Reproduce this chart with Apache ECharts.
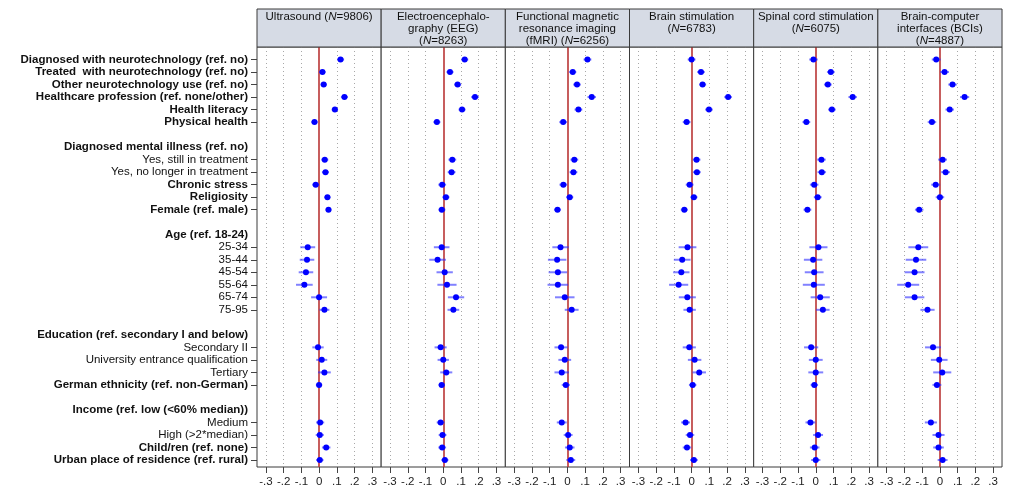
<!DOCTYPE html>
<html><head><meta charset="utf-8">
<script src="https://cdn.jsdelivr.net/npm/echarts@6/dist/echarts.min.js"></script>
<style>html,body{margin:0;padding:0;background:#fff}#c{width:1023px;height:498px}</style>
</head><body><div id="c"></div>
<script>
// ---------- data ----------
const rowLabels = [
  'Diagnosed with neurotechnology (ref. no)',
  'Treated  with neurotechnology (ref. no)',
  'Other neurotechnology use (ref. no)',
  'Healthcare profession (ref. none/other)',
  'Health literacy',
  'Physical health',
  '',
  'Diagnosed mental illness (ref. no)',
  'Yes, still in treatment',
  'Yes, no longer in treatment',
  'Chronic stress',
  'Religiosity',
  'Female (ref. male)',
  '',
  'Age (ref. 18-24)',
  '25-34', '35-44', '45-54', '55-64', '65-74', '75-95',
  '',
  'Education (ref. secondary I and below)',
  'Secondary II',
  'University entrance qualification',
  'Tertiary',
  'German ethnicity (ref. non-German)',
  '',
  'Income (ref. low (<60% median))',
  'Medium',
  'High (>2*median)',
  'Child/ren (ref. none)',
  'Urban place of residence (ref. rural)'
];
const rowKind = ['b','b','b','b','b','b','', 'b','n','n','b','b','b','', 'b','n','n','n','n','n','n','', 'b','n','n','n','b','', 'b','n','n','b','b'];
const dataRows = [0,1,2,3,4,5,8,9,10,11,12,15,16,17,18,19,20,23,24,25,26,29,30,31,32];
const xTicks = [-0.3,-0.2,-0.1,0,0.1,0.2,0.3];
const panelTitles = [
  'Ultrasound ({i|N}=9806)',
  'Electroencephalo-\ngraphy (EEG)\n({i|N}=8263)',
  'Functional magnetic\nresonance imaging\n(fMRI) ({i|N}=6256)',
  'Brain stimulation\n({i|N}=6783)',
  'Spinal cord stimulation\n({i|N}=6075)',
  'Brain-computer\ninterfaces (BCIs)\n({i|N}=4887)'
];
const estUltrasound = [0.121,0.019,0.026,0.143,0.089,-0.026, 0.032,0.036,-0.019,0.047,0.053, -0.064,-0.068,-0.074,-0.083,0.000,0.030, -0.006,0.015,0.030,0.000, 0.006,0.004,0.040,0.004];
const ciUltrasound  = [0.020,0.018,0.018,0.020,0.018,0.018, 0.020,0.020,0.020,0.017,0.017, 0.042,0.041,0.041,0.047,0.045,0.028, 0.032,0.031,0.036,0.018, 0.023,0.023,0.024,0.021];
const estEEG = [0.121,0.038,0.081,0.179,0.106,-0.036, 0.051,0.047,-0.006,0.015,-0.008, -0.009,-0.032,0.008,0.021,0.072,0.057, -0.015,0.000,0.017,-0.009, -0.015,-0.004,-0.006,0.009];
const ciEEG  = [0.020,0.020,0.020,0.022,0.020,0.020, 0.022,0.022,0.022,0.020,0.020, 0.044,0.047,0.046,0.054,0.046,0.033, 0.034,0.032,0.034,0.018, 0.022,0.022,0.022,0.020];
const estFMRI = [0.113,0.030,0.054,0.137,0.062,-0.024, 0.039,0.034,-0.023,0.013,-0.056, -0.039,-0.058,-0.054,-0.054,-0.015,0.024, -0.036,-0.015,-0.032,-0.009, -0.032,0.004,0.013,0.019];
const ciFMRI  = [0.022,0.020,0.022,0.024,0.022,0.022, 0.022,0.022,0.022,0.020,0.020, 0.046,0.052,0.052,0.058,0.055,0.039, 0.037,0.036,0.041,0.023, 0.028,0.025,0.027,0.025];
const estBrainStim = [0.000,0.053,0.062,0.206,0.098,-0.028, 0.028,0.030,-0.011,0.013,-0.041, -0.023,-0.053,-0.058,-0.073,-0.024,-0.011, -0.013,0.017,0.043,0.006, -0.034,-0.009,-0.026,0.013];
const ciBrainStim  = [0.022,0.022,0.020,0.022,0.022,0.022, 0.022,0.022,0.022,0.020,0.020, 0.050,0.047,0.046,0.054,0.048,0.035, 0.037,0.038,0.038,0.021, 0.025,0.024,0.024,0.022];
const estSpinal = [-0.013,0.085,0.068,0.208,0.091,-0.053, 0.032,0.034,-0.009,0.011,-0.047, 0.015,-0.015,-0.009,-0.011,0.025,0.040, -0.026,0.000,0.000,-0.008, -0.030,0.013,-0.006,0.000];
const ciSpinal  = [0.024,0.022,0.022,0.024,0.022,0.022, 0.024,0.024,0.024,0.022,0.022, 0.051,0.052,0.053,0.062,0.054,0.038, 0.040,0.039,0.042,0.021, 0.028,0.028,0.027,0.026];
const estBCI = [-0.021,0.026,0.071,0.139,0.055,-0.045, 0.015,0.032,-0.024,0.000,-0.117, -0.122,-0.135,-0.143,-0.179,-0.143,-0.070, -0.039,-0.004,0.013,-0.017, -0.051,-0.008,-0.008,0.015];
const ciBCI  = [0.025,0.025,0.024,0.026,0.024,0.024, 0.025,0.025,0.025,0.024,0.024, 0.056,0.058,0.056,0.062,0.055,0.040, 0.045,0.047,0.051,0.025, 0.034,0.034,0.030,0.028];
const panelEst = [estUltrasound, estEEG, estFMRI, estBrainStim, estSpinal, estBCI];
const panelCI  = [ciUltrasound, ciEEG, ciFMRI, ciBrainStim, ciSpinal, ciBCI];

// ---------- layout ----------
const FONT = '"Liberation Sans", Arial, sans-serif';
const L0 = 257, PW = 124.17, TOP = 47, BOT = 31, HEAD_TOP = 9;
const chart = echarts.init(document.getElementById('c'), null, {renderer: 'canvas'});

const grids = [], xAxes = [], yAxes = [], series = [], graphics = [];
for (let p = 0; p < 6; p++) {
  const left = L0 + p * PW;
  grids.push({left: left, top: TOP, width: PW, bottom: BOT, show: true, borderColor: '#3a3a3a', borderWidth: 1, backgroundColor: '#fff', containLabel: false});
  xAxes.push({
    type: 'value', gridIndex: p, min: -0.35, max: 0.35, position: 'bottom',
    axisLine: {show: false, onZero: false},
    splitLine: {show: false},
    axisTick: {show: true, customValues: xTicks, length: 6, lineStyle: {color: '#444'}},
    axisLabel: {show: true, customValues: xTicks, margin: 9, color: '#222', fontSize: 11.5, fontFamily: FONT,
      formatter: v => { const r = Math.round(v * 10); return r === 0 ? '0' : (r < 0 ? '-' : '') + '.' + Math.abs(r); }}
  });
  const labelIdx = rowLabels.map((s, i) => s ? i : -1).filter(i => i >= 0);
  yAxes.push({
    type: 'value', gridIndex: p, inverse: true, min: -1, max: 32.56, position: 'left',
    axisLine: {show: false, onZero: false}, splitLine: {show: false},
    axisTick: {show: p === 0, customValues: dataRows, length: 6, lineStyle: {color: '#444'}},
    axisLabel: {show: p === 0, customValues: labelIdx, margin: 9, fontFamily: FONT, fontSize: 11.5, color: '#111',
      formatter: v => { const i = Math.round(v); const s = rowLabels[i]; return s ? '{' + rowKind[i] + '|' + s + '}' : ''; },
      rich: {
        b: {fontWeight: 'bold', fontSize: 11.5, fontFamily: FONT, color: '#111'},
        n: {fontWeight: 'normal', fontSize: 11.5, fontFamily: FONT, color: '#111'}
      }}
  });
  // reference lines: dotted grid + red zero line
  series.push({
    type: 'scatter', xAxisIndex: p, yAxisIndex: p, data: [], z: 1, silent: true,
    markLine: {
      symbol: ['none', 'none'], silent: true, animation: false, label: {show: false},
      data: xTicks.map(v => v === 0
        ? {xAxis: v, lineStyle: {color: '#b93535', width: 1.6, type: 'solid'}}
        : {xAxis: v, lineStyle: {color: '#a8a8a8', width: 1, type: [1, 3]}})
    }
  });
  const est = panelEst[p], ci = panelCI[p];
  series.push({
    type: 'custom', xAxisIndex: p, yAxisIndex: p, z: 5, animation: false,
    data: dataRows.map((r, k) => [est[k], r, est[k] - ci[k], est[k] + ci[k]]),
    encode: {x: 0, y: 1},
    renderItem: (params, api) => {
      const y = api.value(1);
      const a = api.coord([api.value(2), y]);
      const b = api.coord([api.value(3), y]);
      const c = api.coord([api.value(0), y]);
      return {type: 'group', children: [
        {type: 'line', shape: {x1: a[0], y1: a[1], x2: b[0], y2: b[1]}, style: {stroke: 'rgba(45,45,255,0.6)', lineWidth: 2}},
        {type: 'circle', shape: {cx: c[0], cy: c[1], r: 3}, style: {fill: '#0000ff'}}
      ]};
    }
  });
  // header box
  graphics.push({type: 'rect', shape: {x: left, y: HEAD_TOP, width: PW, height: TOP - HEAD_TOP}, style: {fill: '#d6dbe5', stroke: '#3a3a3a', lineWidth: 1}, z: 10});
  graphics.push({type: 'text', x: left + PW / 2, y: HEAD_TOP + 2, z: 11,
    style: {text: panelTitles[p], align: 'center', verticalAlign: 'top', fontSize: 11.5, fontFamily: FONT, fill: '#111', lineHeight: 12,
      rich: {i: {fontStyle: 'italic', fontSize: 11.5, fontFamily: FONT, fill: '#111', lineHeight: 12}}}});
}

chart.setOption({
  animation: false,
  backgroundColor: '#fff',
  grid: grids, xAxis: xAxes, yAxis: yAxes, series: series,
  graphic: {elements: graphics}
});
</script></body></html>
